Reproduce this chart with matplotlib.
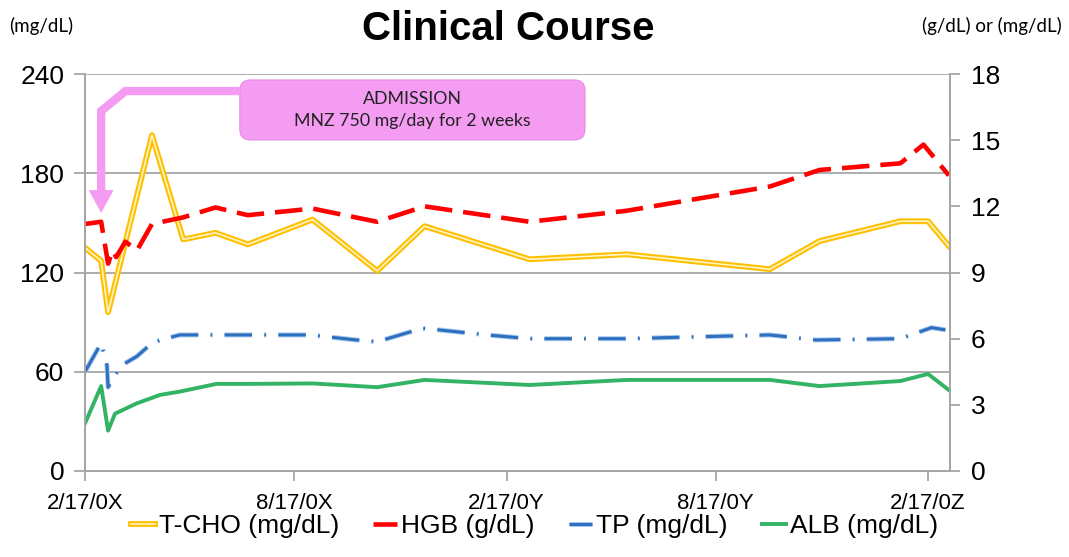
import matplotlib
matplotlib.use('Agg')
import matplotlib.pyplot as plt
import matplotlib.patheffects as pe
from matplotlib.patches import FancyBboxPatch

plt.rcParams['font.family'] = ['Liberation Sans', 'DejaVu Sans']

# Data (days after 2/17/0X)
tick_days = [0, 181, 365, 546, 730]
tick_labels = ['2/17/0X', '8/17/0X', '2/17/0Y', '8/17/0Y', '2/17/0Z']

tcho_days = [0, 14, 20, 58, 85, 113, 141, 197, 253, 294, 385, 469, 593, 636, 706, 730, 748]
tcho = [135, 127, 96, 203, 140, 144, 137, 152, 121, 148, 128, 131, 122, 139, 151, 151, 136]

hgb_days = [0, 14, 20, 24, 27, 35, 45, 58, 85, 113, 141, 197, 253, 294, 385, 469, 593, 636, 706, 726, 748]
hgb = [11.2, 11.3, 9.4, 10.0, 9.7, 10.4, 10.0, 11.2, 11.5, 11.95, 11.6, 11.9, 11.3, 12.0, 11.3, 11.8, 12.9, 13.65, 13.95, 14.8, 13.4]

tp_days = [0, 14, 19, 20, 24, 32, 45, 58, 66, 82, 114, 151, 195, 235, 253, 292, 306, 348, 385, 469, 593, 633, 706, 733, 745]
tp = [4.5, 5.8, 4.8, 3.8, 4.2, 4.8, 5.2, 5.8, 5.95, 6.17, 6.17, 6.17, 6.17, 5.94, 5.86, 6.47, 6.4, 6.17, 6.0, 6.0, 6.17, 5.94, 6.0, 6.5, 6.4]

alb_days = [0, 14, 20, 26, 45, 65, 82, 114, 141, 197, 253, 294, 385, 469, 593, 636, 706, 730, 748]
alb = [2.16, 3.85, 1.83, 2.6, 3.07, 3.45, 3.6, 3.95, 3.95, 3.97, 3.8, 4.13, 3.9, 4.13, 4.13, 3.85, 4.08, 4.4, 3.67]

admission_day = 14

grey = '#A6A6A6'
pink = '#F49CF2'

fig = plt.figure(figsize=(10.69, 5.57), dpi=100)
ax = fig.add_axes([0.0795, 0.1544, 0.8092, 0.7127])
ax2 = ax.twinx()

# T-CHO on left axis, double line look
l_tcho, = ax.plot(tcho_days, tcho, color='#FFF4C8', lw=1.2, label='T-CHO (mg/dL)',
                  path_effects=[pe.Stroke(linewidth=4.2, foreground='#FFC000'), pe.Normal()])

l_hgb, = ax2.plot(hgb_days, hgb, color='#FF0000', lw=3.3, dashes=(6, 2.4), label='HGB (g/dL)')
l_tp, = ax2.plot(tp_days, tp, color='#2E6FBF', lw=2.2, dashes=(9, 4, 0.6, 4), label='TP (mg/dL)',
                 path_effects=[pe.Stroke(linewidth=3.6, foreground='#A9CBEE'), pe.Normal()])
l_alb, = ax2.plot(alb_days, alb, color='#33B364', lw=2.8, label='ALB (mg/dL)')

ax.set_xlim(0, 749)
ax.set_ylim(0, 240)
ax2.set_ylim(0, 18)
ax.set_yticks([0, 60, 120, 180, 240])
ax2.set_yticks([0, 3, 6, 9, 12, 15, 18])
ax.set_xticks(tick_days)
ax.set_xticklabels(tick_labels)

ax.grid(axis='y', color=grey, lw=1.3)
ax.set_axisbelow(True)

for a in (ax, ax2):
    for s in a.spines.values():
        s.set_color(grey)
        s.set_linewidth(1.3)
    a.spines['top'].set_visible(False)

ax.tick_params(axis='y', labelsize=19, length=8, color=grey, width=1.3, pad=7)
ax.tick_params(axis='x', labelsize=16, length=7, color=grey, width=1.3, pad=9)
ax2.tick_params(axis='y', labelsize=19, length=7, color=grey, width=1.3, pad=8)

# Admission callout
box = FancyBboxPatch((0.179, 0.834), 0.399, 0.151, transform=ax.transAxes,
                     boxstyle='round,pad=0,rounding_size=0.012', mutation_aspect=865 / 397,
                     fc=pink, ec='#E58BE3', lw=0.8, clip_on=False, zorder=5)
ax.add_patch(box)
ax.text(0.3785, 0.9095, 'ADMISSION\nMNZ 750 mg/day for 2 weeks', transform=ax.transAxes,
        ha='center', va='center', fontsize=12.8, family=['Lato', 'DejaVu Sans'],
        color='#222222', linespacing=1.45, zorder=6)

ax.plot([134, 35, admission_day, admission_day], [229.7, 229.7, 217.6, 169],
        color=pink, lw=6, solid_joinstyle='miter', solid_capstyle='butt', zorder=5)
ax.annotate('', xy=(admission_day, 156), xytext=(admission_day, 170),
            arrowprops=dict(arrowstyle='-|>,head_width=0.3,head_length=0.55', mutation_scale=30,
                            color=pink, lw=0, shrinkA=0, shrinkB=0), zorder=5)

fig.text(0.475, 0.948, 'Clinical Course', ha='center', va='center', fontsize=29, fontweight='bold')
fig.text(0.009, 0.953, '(mg/dL)', ha='left', va='center', fontsize=13.5, family=['Lato', 'DejaVu Sans'])
fig.text(0.993, 0.953, '(g/dL) or (mg/dL)', ha='right', va='center', fontsize=13.5,
         family=['Lato', 'DejaVu Sans'])

fig.legend([l_tcho, l_hgb, l_tp, l_alb], [l.get_label() for l in (l_tcho, l_hgb, l_tp, l_alb)],
           loc='center', bbox_to_anchor=(0.5, 0.055), ncol=4, frameon=False, fontsize=19,
           handlelength=0.9, handletextpad=0.15, columnspacing=1.3)

fig.savefig('out.png', dpi=100)
